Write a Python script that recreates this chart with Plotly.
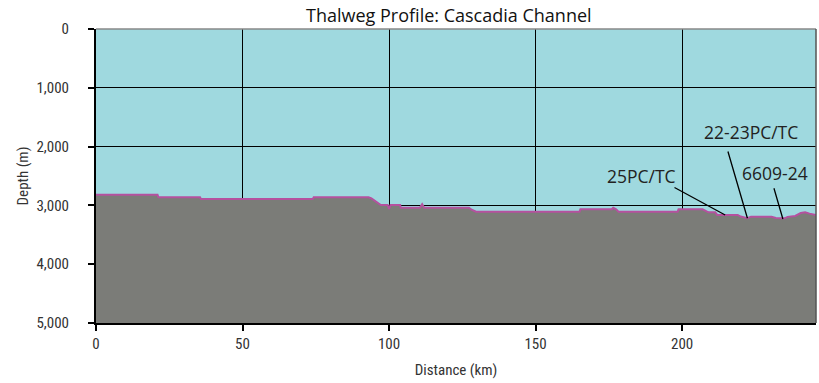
import plotly.graph_objects as go

# Thalweg profile of the Cascadia Channel: along-channel distance vs. seafloor depth
distance_km = [0, 21, 21.3, 35.5, 35.8, 74, 74.3, 93, 94, 95, 96, 97.2, 99.5, 100, 100.5,
               103.8, 104, 110.5, 111.3, 112, 127.3, 128, 129.7, 165, 165.3, 176, 176.5,
               177.5, 178.3, 198.5, 198.8, 207, 209, 211.3, 212, 219, 220, 222.3, 223.5,
               230.5, 232, 235, 236, 238.6, 240.5, 242, 243.5, 245.7]
depth_m = [2820, 2820, 2862, 2862, 2891, 2891, 2862, 2862, 2880, 2920, 2960, 2993, 2993,
           3060, 2993, 2993, 3039, 3039, 2980, 3039, 3039, 3070, 3107, 3107, 3066, 3066,
           3040, 3066, 3107, 3107, 3066, 3066, 3117, 3117, 3163, 3163, 3190, 3219, 3192,
           3192, 3215, 3219, 3195, 3180, 3130, 3117, 3140, 3163]

# Core sites: label, seafloor point (km, m), label-line start (km, m), label centre
core_labels = ["25PC/TC", "22-23PC/TC", "6609-24"]
core_km = [214.7, 222.3, 234.4]
core_depth = [3163, 3219, 3231]
leader_km = [196.9, 215.5, 231.2]
leader_depth = [2682, 2058, 2682]
label_km = [186.3, 223.5, 231.7]
label_depth = [2500, 1752, 2449]

x_max = 245.7
depth_max = 5000

water = "#9fd9df"
seabed = "#7b7c78"
thalweg = "#b5519f"
label_font = "Open Sans, Noto Sans, sans-serif"
axis_font = "Roboto Condensed, DejaVu Sans Condensed, Roboto, sans-serif"

fig = go.Figure()

# floor of the section, used as the lower edge of the seabed fill
fig.add_trace(go.Scatter(x=[0, x_max], y=[depth_max, depth_max], mode="lines",
                         line=dict(width=0, color=seabed), hoverinfo="skip",
                         showlegend=False))
fig.add_trace(go.Scatter(x=distance_km, y=depth_m, mode="lines", fill="tonexty",
                         fillcolor=seabed, line=dict(color=thalweg, width=2),
                         showlegend=False))

for name, xk, yd, lx, ly, tx, ty in zip(core_labels, core_km, core_depth,
                                        leader_km, leader_depth, label_km, label_depth):
    fig.add_annotation(x=xk, y=yd, ax=lx, ay=ly, axref="x", ayref="y", xref="x",
                       yref="y", text="", showarrow=True, arrowhead=0,
                       arrowwidth=1.3, arrowcolor="black")
    fig.add_annotation(x=tx, y=ty, xref="x", yref="y", text=name, showarrow=False,
                       font=dict(family=label_font, size=17.5, color="#222"))

fig.update_layout(
    width=819, height=383,
    margin=dict(l=96, r=3, t=29, b=60),
    paper_bgcolor="white",
    plot_bgcolor=water,
    title=dict(text="Thalweg Profile: Cascadia Channel", x=0.49, xref="paper",
               xanchor="center", y=1, yref="paper", yanchor="bottom",
               pad=dict(b=7),
               font=dict(family=label_font, size=18, color="#111")),
    xaxis=dict(range=[0, x_max], tickvals=[0, 50, 100, 150, 200], showgrid=True,
               gridcolor="black", gridwidth=1, zeroline=False, showline=True,
               linecolor="black", linewidth=2, mirror=False, ticks="outside",
               ticklen=6, tickwidth=2, tickcolor="black",
               tickfont=dict(family=axis_font, size=15, color="#333"),
               title=dict(text="Distance (km)", standoff=12,
                          font=dict(family=axis_font, size=15, color="#333"))),
    yaxis=dict(range=[depth_max, 0], tickvals=[0, 1000, 2000, 3000, 4000, 5000],
               tickformat=",d", showgrid=True, gridcolor="black", gridwidth=1,
               zeroline=False, showline=True, linecolor="black", linewidth=2,
               ticks="outside", ticklen=6, tickwidth=2, tickcolor="black",
               ticklabelstandoff=16,
               tickfont=dict(family=axis_font, size=15, color="#333"),
               title=dict(text="Depth (m)", standoff=4,
                          font=dict(family=axis_font, size=15, color="#333"))),
)

# thin border on the top and right sides of the plot area
fig.add_shape(type="line", xref="paper", yref="paper", x0=0, x1=1, y0=1, y1=1,
              line=dict(color="#888", width=1.5))
fig.add_shape(type="line", xref="paper", yref="paper", x0=1, x1=1, y0=0, y1=1,
              line=dict(color="#555", width=1.5))

fig.write_html("out.html")
